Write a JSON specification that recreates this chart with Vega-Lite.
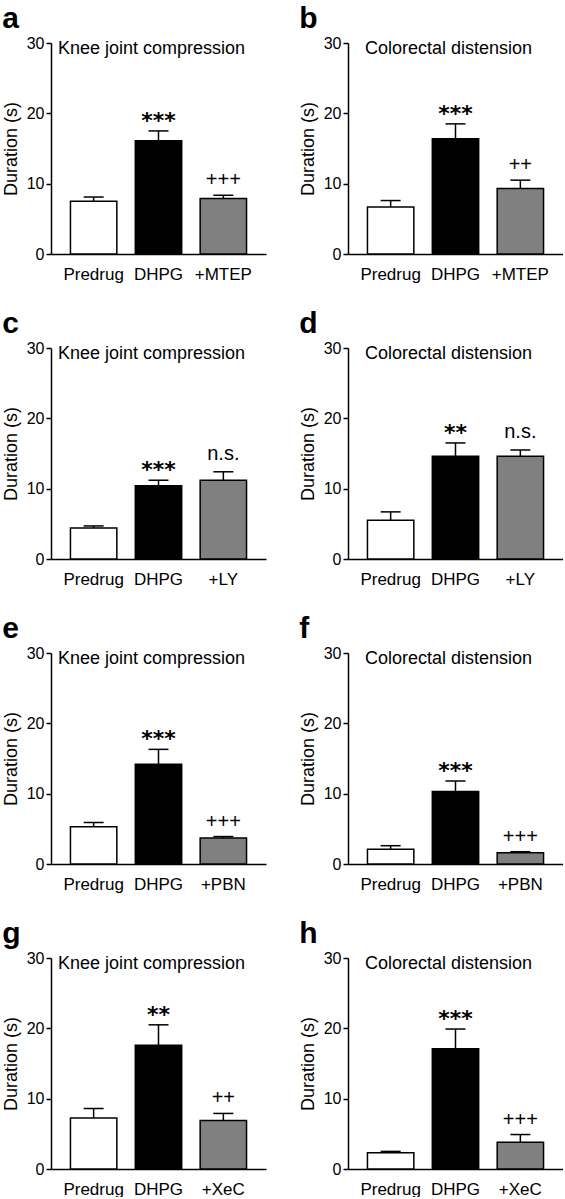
{
  "$schema": "https://vega.github.io/schema/vega-lite/v6.json",
  "padding": {"left": 2, "top": 4, "right": 0, "bottom": 0},
  "background": "white",
  "data": {"values": [
    {"panel": "a", "label": "Predrug", "group": "pre", "mean": 7.5, "err": 8.1, "sig": "", "title": "Knee joint compression"},
    {"panel": "a", "label": "DHPG", "group": "dhpg", "mean": 16.1, "err": 17.5, "sig": "***", "title": "Knee joint compression"},
    {"panel": "a", "label": "+MTEP", "group": "drug", "mean": 7.9, "err": 8.35, "sig": "+++", "title": "Knee joint compression"},
    {"panel": "b", "label": "Predrug", "group": "pre", "mean": 6.7, "err": 7.6, "sig": "", "title": "Colorectal distension"},
    {"panel": "b", "label": "DHPG", "group": "dhpg", "mean": 16.4, "err": 18.5, "sig": "***", "title": "Colorectal distension"},
    {"panel": "b", "label": "+MTEP", "group": "drug", "mean": 9.3, "err": 10.5, "sig": "++", "title": "Colorectal distension"},
    {"panel": "c", "label": "Predrug", "group": "pre", "mean": 4.4, "err": 4.7, "sig": "", "title": "Knee joint compression"},
    {"panel": "c", "label": "DHPG", "group": "dhpg", "mean": 10.4, "err": 11.2, "sig": "***", "title": "Knee joint compression"},
    {"panel": "c", "label": "+LY", "group": "drug", "mean": 11.2, "err": 12.4, "sig": "n.s.", "title": "Knee joint compression"},
    {"panel": "d", "label": "Predrug", "group": "pre", "mean": 5.5, "err": 6.7, "sig": "", "title": "Colorectal distension"},
    {"panel": "d", "label": "DHPG", "group": "dhpg", "mean": 14.6, "err": 16.5, "sig": "**", "title": "Colorectal distension"},
    {"panel": "d", "label": "+LY", "group": "drug", "mean": 14.6, "err": 15.5, "sig": "n.s.", "title": "Colorectal distension"},
    {"panel": "e", "label": "Predrug", "group": "pre", "mean": 5.3, "err": 5.9, "sig": "", "title": "Knee joint compression"},
    {"panel": "e", "label": "DHPG", "group": "dhpg", "mean": 14.2, "err": 16.3, "sig": "***", "title": "Knee joint compression"},
    {"panel": "e", "label": "+PBN", "group": "drug", "mean": 3.7, "err": 3.9, "sig": "+++", "title": "Knee joint compression"},
    {"panel": "f", "label": "Predrug", "group": "pre", "mean": 2.1, "err": 2.6, "sig": "", "title": "Colorectal distension"},
    {"panel": "f", "label": "DHPG", "group": "dhpg", "mean": 10.3, "err": 11.8, "sig": "***", "title": "Colorectal distension"},
    {"panel": "f", "label": "+PBN", "group": "drug", "mean": 1.6, "err": 1.75, "sig": "+++", "title": "Colorectal distension"},
    {"panel": "g", "label": "Predrug", "group": "pre", "mean": 7.25, "err": 8.6, "sig": "", "title": "Knee joint compression"},
    {"panel": "g", "label": "DHPG", "group": "dhpg", "mean": 17.6, "err": 20.5, "sig": "**", "title": "Knee joint compression"},
    {"panel": "g", "label": "+XeC", "group": "drug", "mean": 6.9, "err": 7.9, "sig": "++", "title": "Knee joint compression"},
    {"panel": "h", "label": "Predrug", "group": "pre", "mean": 2.3, "err": 2.5, "sig": "", "title": "Colorectal distension"},
    {"panel": "h", "label": "DHPG", "group": "dhpg", "mean": 17.1, "err": 19.9, "sig": "***", "title": "Colorectal distension"},
    {"panel": "h", "label": "+XeC", "group": "drug", "mean": 3.8, "err": 4.9, "sig": "+++", "title": "Colorectal distension"}
  ]},
  "columns": 2,
  "spacing": {"row": 27, "column": 33},
  "concat": [
    {"title": "a", "transform": [{"filter": "datum.panel == 'a'"}], "width": 215, "height": 211,
     "encoding": {"x": {"field": "label", "type": "nominal", "sort": ["Predrug", "DHPG", "+MTEP", "+LY", "+PBN", "+XeC"], "scale": {"paddingInner": 0.285, "paddingOuter": 0.3}}},
     "layer": [
      {"mark": {"type": "bar", "stroke": "black", "strokeWidth": 1.5}, "encoding": {"y": {"field": "mean", "type": "quantitative", "scale": {"domain": [0, 30]}, "axis": {"values": [0, 10, 20, 30]}, "title": "Duration (s)"}, "fill": {"field": "group", "type": "nominal", "scale": {"domain": ["pre", "dhpg", "drug"], "range": ["white", "black", "#808080"]}, "legend": null}}},
      {"mark": {"type": "rule", "color": "black", "strokeWidth": 1.5}, "encoding": {"y": {"field": "mean", "type": "quantitative"}, "y2": {"field": "err"}}},
      {"mark": {"type": "tick", "color": "black", "thickness": 1.5, "size": 20, "opacity": 1}, "encoding": {"y": {"field": "err", "type": "quantitative"}}},
      {"transform": [{"filter": "indexof(datum.sig, '*') >= 0"}], "mark": {"type": "text", "font": "DejaVu Sans", "fontWeight": "bold", "fontSize": 22, "dy": -3, "baseline": "alphabetic", "color": "black"}, "encoding": {"y": {"field": "err", "type": "quantitative"}, "text": {"field": "sig"}}},
      {"transform": [{"filter": "indexof(datum.sig, '+') >= 0"}], "mark": {"type": "text", "fontSize": 20, "dy": -9, "baseline": "alphabetic", "color": "black"}, "encoding": {"y": {"field": "err", "type": "quantitative"}, "text": {"field": "sig"}}},
      {"transform": [{"filter": "datum.sig == 'n.s.'"}], "mark": {"type": "text", "fontSize": 20, "dy": -12, "baseline": "alphabetic", "color": "black"}, "encoding": {"y": {"field": "err", "type": "quantitative"}, "text": {"field": "sig"}}},
      {"transform": [{"filter": "datum.label == 'DHPG'"}], "mark": {"type": "text", "fontSize": 18, "baseline": "top", "dx": -7, "dy": -3, "color": "black"}, "encoding": {"y": {"datum": 30}, "text": {"field": "title"}}}
     ]},
    {"title": "b", "transform": [{"filter": "datum.panel == 'b'"}], "width": 215, "height": 211,
     "encoding": {"x": {"field": "label", "type": "nominal", "sort": ["Predrug", "DHPG", "+MTEP", "+LY", "+PBN", "+XeC"], "scale": {"paddingInner": 0.285, "paddingOuter": 0.3}}},
     "layer": [
      {"mark": {"type": "bar", "stroke": "black", "strokeWidth": 1.5}, "encoding": {"y": {"field": "mean", "type": "quantitative", "scale": {"domain": [0, 30]}, "axis": {"values": [0, 10, 20, 30]}, "title": "Duration (s)"}, "fill": {"field": "group", "type": "nominal", "scale": {"domain": ["pre", "dhpg", "drug"], "range": ["white", "black", "#808080"]}, "legend": null}}},
      {"mark": {"type": "rule", "color": "black", "strokeWidth": 1.5}, "encoding": {"y": {"field": "mean", "type": "quantitative"}, "y2": {"field": "err"}}},
      {"mark": {"type": "tick", "color": "black", "thickness": 1.5, "size": 20, "opacity": 1}, "encoding": {"y": {"field": "err", "type": "quantitative"}}},
      {"transform": [{"filter": "indexof(datum.sig, '*') >= 0"}], "mark": {"type": "text", "font": "DejaVu Sans", "fontWeight": "bold", "fontSize": 22, "dy": -3, "baseline": "alphabetic", "color": "black"}, "encoding": {"y": {"field": "err", "type": "quantitative"}, "text": {"field": "sig"}}},
      {"transform": [{"filter": "indexof(datum.sig, '+') >= 0"}], "mark": {"type": "text", "fontSize": 20, "dy": -9, "baseline": "alphabetic", "color": "black"}, "encoding": {"y": {"field": "err", "type": "quantitative"}, "text": {"field": "sig"}}},
      {"transform": [{"filter": "datum.sig == 'n.s.'"}], "mark": {"type": "text", "fontSize": 20, "dy": -12, "baseline": "alphabetic", "color": "black"}, "encoding": {"y": {"field": "err", "type": "quantitative"}, "text": {"field": "sig"}}},
      {"transform": [{"filter": "datum.label == 'DHPG'"}], "mark": {"type": "text", "fontSize": 18, "baseline": "top", "dx": -7, "dy": -3, "color": "black"}, "encoding": {"y": {"datum": 30}, "text": {"field": "title"}}}
     ]},
    {"title": "c", "transform": [{"filter": "datum.panel == 'c'"}], "width": 215, "height": 211,
     "encoding": {"x": {"field": "label", "type": "nominal", "sort": ["Predrug", "DHPG", "+MTEP", "+LY", "+PBN", "+XeC"], "scale": {"paddingInner": 0.285, "paddingOuter": 0.3}}},
     "layer": [
      {"mark": {"type": "bar", "stroke": "black", "strokeWidth": 1.5}, "encoding": {"y": {"field": "mean", "type": "quantitative", "scale": {"domain": [0, 30]}, "axis": {"values": [0, 10, 20, 30]}, "title": "Duration (s)"}, "fill": {"field": "group", "type": "nominal", "scale": {"domain": ["pre", "dhpg", "drug"], "range": ["white", "black", "#808080"]}, "legend": null}}},
      {"mark": {"type": "rule", "color": "black", "strokeWidth": 1.5}, "encoding": {"y": {"field": "mean", "type": "quantitative"}, "y2": {"field": "err"}}},
      {"mark": {"type": "tick", "color": "black", "thickness": 1.5, "size": 20, "opacity": 1}, "encoding": {"y": {"field": "err", "type": "quantitative"}}},
      {"transform": [{"filter": "indexof(datum.sig, '*') >= 0"}], "mark": {"type": "text", "font": "DejaVu Sans", "fontWeight": "bold", "fontSize": 22, "dy": -3, "baseline": "alphabetic", "color": "black"}, "encoding": {"y": {"field": "err", "type": "quantitative"}, "text": {"field": "sig"}}},
      {"transform": [{"filter": "indexof(datum.sig, '+') >= 0"}], "mark": {"type": "text", "fontSize": 20, "dy": -9, "baseline": "alphabetic", "color": "black"}, "encoding": {"y": {"field": "err", "type": "quantitative"}, "text": {"field": "sig"}}},
      {"transform": [{"filter": "datum.sig == 'n.s.'"}], "mark": {"type": "text", "fontSize": 20, "dy": -12, "baseline": "alphabetic", "color": "black"}, "encoding": {"y": {"field": "err", "type": "quantitative"}, "text": {"field": "sig"}}},
      {"transform": [{"filter": "datum.label == 'DHPG'"}], "mark": {"type": "text", "fontSize": 18, "baseline": "top", "dx": -7, "dy": -3, "color": "black"}, "encoding": {"y": {"datum": 30}, "text": {"field": "title"}}}
     ]},
    {"title": "d", "transform": [{"filter": "datum.panel == 'd'"}], "width": 215, "height": 211,
     "encoding": {"x": {"field": "label", "type": "nominal", "sort": ["Predrug", "DHPG", "+MTEP", "+LY", "+PBN", "+XeC"], "scale": {"paddingInner": 0.285, "paddingOuter": 0.3}}},
     "layer": [
      {"mark": {"type": "bar", "stroke": "black", "strokeWidth": 1.5}, "encoding": {"y": {"field": "mean", "type": "quantitative", "scale": {"domain": [0, 30]}, "axis": {"values": [0, 10, 20, 30]}, "title": "Duration (s)"}, "fill": {"field": "group", "type": "nominal", "scale": {"domain": ["pre", "dhpg", "drug"], "range": ["white", "black", "#808080"]}, "legend": null}}},
      {"mark": {"type": "rule", "color": "black", "strokeWidth": 1.5}, "encoding": {"y": {"field": "mean", "type": "quantitative"}, "y2": {"field": "err"}}},
      {"mark": {"type": "tick", "color": "black", "thickness": 1.5, "size": 20, "opacity": 1}, "encoding": {"y": {"field": "err", "type": "quantitative"}}},
      {"transform": [{"filter": "indexof(datum.sig, '*') >= 0"}], "mark": {"type": "text", "font": "DejaVu Sans", "fontWeight": "bold", "fontSize": 22, "dy": -3, "baseline": "alphabetic", "color": "black"}, "encoding": {"y": {"field": "err", "type": "quantitative"}, "text": {"field": "sig"}}},
      {"transform": [{"filter": "indexof(datum.sig, '+') >= 0"}], "mark": {"type": "text", "fontSize": 20, "dy": -9, "baseline": "alphabetic", "color": "black"}, "encoding": {"y": {"field": "err", "type": "quantitative"}, "text": {"field": "sig"}}},
      {"transform": [{"filter": "datum.sig == 'n.s.'"}], "mark": {"type": "text", "fontSize": 20, "dy": -12, "baseline": "alphabetic", "color": "black"}, "encoding": {"y": {"field": "err", "type": "quantitative"}, "text": {"field": "sig"}}},
      {"transform": [{"filter": "datum.label == 'DHPG'"}], "mark": {"type": "text", "fontSize": 18, "baseline": "top", "dx": -7, "dy": -3, "color": "black"}, "encoding": {"y": {"datum": 30}, "text": {"field": "title"}}}
     ]},
    {"title": "e", "transform": [{"filter": "datum.panel == 'e'"}], "width": 215, "height": 211,
     "encoding": {"x": {"field": "label", "type": "nominal", "sort": ["Predrug", "DHPG", "+MTEP", "+LY", "+PBN", "+XeC"], "scale": {"paddingInner": 0.285, "paddingOuter": 0.3}}},
     "layer": [
      {"mark": {"type": "bar", "stroke": "black", "strokeWidth": 1.5}, "encoding": {"y": {"field": "mean", "type": "quantitative", "scale": {"domain": [0, 30]}, "axis": {"values": [0, 10, 20, 30]}, "title": "Duration (s)"}, "fill": {"field": "group", "type": "nominal", "scale": {"domain": ["pre", "dhpg", "drug"], "range": ["white", "black", "#808080"]}, "legend": null}}},
      {"mark": {"type": "rule", "color": "black", "strokeWidth": 1.5}, "encoding": {"y": {"field": "mean", "type": "quantitative"}, "y2": {"field": "err"}}},
      {"mark": {"type": "tick", "color": "black", "thickness": 1.5, "size": 20, "opacity": 1}, "encoding": {"y": {"field": "err", "type": "quantitative"}}},
      {"transform": [{"filter": "indexof(datum.sig, '*') >= 0"}], "mark": {"type": "text", "font": "DejaVu Sans", "fontWeight": "bold", "fontSize": 22, "dy": -3, "baseline": "alphabetic", "color": "black"}, "encoding": {"y": {"field": "err", "type": "quantitative"}, "text": {"field": "sig"}}},
      {"transform": [{"filter": "indexof(datum.sig, '+') >= 0"}], "mark": {"type": "text", "fontSize": 20, "dy": -9, "baseline": "alphabetic", "color": "black"}, "encoding": {"y": {"field": "err", "type": "quantitative"}, "text": {"field": "sig"}}},
      {"transform": [{"filter": "datum.sig == 'n.s.'"}], "mark": {"type": "text", "fontSize": 20, "dy": -12, "baseline": "alphabetic", "color": "black"}, "encoding": {"y": {"field": "err", "type": "quantitative"}, "text": {"field": "sig"}}},
      {"transform": [{"filter": "datum.label == 'DHPG'"}], "mark": {"type": "text", "fontSize": 18, "baseline": "top", "dx": -7, "dy": -3, "color": "black"}, "encoding": {"y": {"datum": 30}, "text": {"field": "title"}}}
     ]},
    {"title": "f", "transform": [{"filter": "datum.panel == 'f'"}], "width": 215, "height": 211,
     "encoding": {"x": {"field": "label", "type": "nominal", "sort": ["Predrug", "DHPG", "+MTEP", "+LY", "+PBN", "+XeC"], "scale": {"paddingInner": 0.285, "paddingOuter": 0.3}}},
     "layer": [
      {"mark": {"type": "bar", "stroke": "black", "strokeWidth": 1.5}, "encoding": {"y": {"field": "mean", "type": "quantitative", "scale": {"domain": [0, 30]}, "axis": {"values": [0, 10, 20, 30]}, "title": "Duration (s)"}, "fill": {"field": "group", "type": "nominal", "scale": {"domain": ["pre", "dhpg", "drug"], "range": ["white", "black", "#808080"]}, "legend": null}}},
      {"mark": {"type": "rule", "color": "black", "strokeWidth": 1.5}, "encoding": {"y": {"field": "mean", "type": "quantitative"}, "y2": {"field": "err"}}},
      {"mark": {"type": "tick", "color": "black", "thickness": 1.5, "size": 20, "opacity": 1}, "encoding": {"y": {"field": "err", "type": "quantitative"}}},
      {"transform": [{"filter": "indexof(datum.sig, '*') >= 0"}], "mark": {"type": "text", "font": "DejaVu Sans", "fontWeight": "bold", "fontSize": 22, "dy": -3, "baseline": "alphabetic", "color": "black"}, "encoding": {"y": {"field": "err", "type": "quantitative"}, "text": {"field": "sig"}}},
      {"transform": [{"filter": "indexof(datum.sig, '+') >= 0"}], "mark": {"type": "text", "fontSize": 20, "dy": -9, "baseline": "alphabetic", "color": "black"}, "encoding": {"y": {"field": "err", "type": "quantitative"}, "text": {"field": "sig"}}},
      {"transform": [{"filter": "datum.sig == 'n.s.'"}], "mark": {"type": "text", "fontSize": 20, "dy": -12, "baseline": "alphabetic", "color": "black"}, "encoding": {"y": {"field": "err", "type": "quantitative"}, "text": {"field": "sig"}}},
      {"transform": [{"filter": "datum.label == 'DHPG'"}], "mark": {"type": "text", "fontSize": 18, "baseline": "top", "dx": -7, "dy": -3, "color": "black"}, "encoding": {"y": {"datum": 30}, "text": {"field": "title"}}}
     ]},
    {"title": "g", "transform": [{"filter": "datum.panel == 'g'"}], "width": 215, "height": 211,
     "encoding": {"x": {"field": "label", "type": "nominal", "sort": ["Predrug", "DHPG", "+MTEP", "+LY", "+PBN", "+XeC"], "scale": {"paddingInner": 0.285, "paddingOuter": 0.3}}},
     "layer": [
      {"mark": {"type": "bar", "stroke": "black", "strokeWidth": 1.5}, "encoding": {"y": {"field": "mean", "type": "quantitative", "scale": {"domain": [0, 30]}, "axis": {"values": [0, 10, 20, 30]}, "title": "Duration (s)"}, "fill": {"field": "group", "type": "nominal", "scale": {"domain": ["pre", "dhpg", "drug"], "range": ["white", "black", "#808080"]}, "legend": null}}},
      {"mark": {"type": "rule", "color": "black", "strokeWidth": 1.5}, "encoding": {"y": {"field": "mean", "type": "quantitative"}, "y2": {"field": "err"}}},
      {"mark": {"type": "tick", "color": "black", "thickness": 1.5, "size": 20, "opacity": 1}, "encoding": {"y": {"field": "err", "type": "quantitative"}}},
      {"transform": [{"filter": "indexof(datum.sig, '*') >= 0"}], "mark": {"type": "text", "font": "DejaVu Sans", "fontWeight": "bold", "fontSize": 22, "dy": -3, "baseline": "alphabetic", "color": "black"}, "encoding": {"y": {"field": "err", "type": "quantitative"}, "text": {"field": "sig"}}},
      {"transform": [{"filter": "indexof(datum.sig, '+') >= 0"}], "mark": {"type": "text", "fontSize": 20, "dy": -9, "baseline": "alphabetic", "color": "black"}, "encoding": {"y": {"field": "err", "type": "quantitative"}, "text": {"field": "sig"}}},
      {"transform": [{"filter": "datum.sig == 'n.s.'"}], "mark": {"type": "text", "fontSize": 20, "dy": -12, "baseline": "alphabetic", "color": "black"}, "encoding": {"y": {"field": "err", "type": "quantitative"}, "text": {"field": "sig"}}},
      {"transform": [{"filter": "datum.label == 'DHPG'"}], "mark": {"type": "text", "fontSize": 18, "baseline": "top", "dx": -7, "dy": -3, "color": "black"}, "encoding": {"y": {"datum": 30}, "text": {"field": "title"}}}
     ]},
    {"title": "h", "transform": [{"filter": "datum.panel == 'h'"}], "width": 215, "height": 211,
     "encoding": {"x": {"field": "label", "type": "nominal", "sort": ["Predrug", "DHPG", "+MTEP", "+LY", "+PBN", "+XeC"], "scale": {"paddingInner": 0.285, "paddingOuter": 0.3}}},
     "layer": [
      {"mark": {"type": "bar", "stroke": "black", "strokeWidth": 1.5}, "encoding": {"y": {"field": "mean", "type": "quantitative", "scale": {"domain": [0, 30]}, "axis": {"values": [0, 10, 20, 30]}, "title": "Duration (s)"}, "fill": {"field": "group", "type": "nominal", "scale": {"domain": ["pre", "dhpg", "drug"], "range": ["white", "black", "#808080"]}, "legend": null}}},
      {"mark": {"type": "rule", "color": "black", "strokeWidth": 1.5}, "encoding": {"y": {"field": "mean", "type": "quantitative"}, "y2": {"field": "err"}}},
      {"mark": {"type": "tick", "color": "black", "thickness": 1.5, "size": 20, "opacity": 1}, "encoding": {"y": {"field": "err", "type": "quantitative"}}},
      {"transform": [{"filter": "indexof(datum.sig, '*') >= 0"}], "mark": {"type": "text", "font": "DejaVu Sans", "fontWeight": "bold", "fontSize": 22, "dy": -3, "baseline": "alphabetic", "color": "black"}, "encoding": {"y": {"field": "err", "type": "quantitative"}, "text": {"field": "sig"}}},
      {"transform": [{"filter": "indexof(datum.sig, '+') >= 0"}], "mark": {"type": "text", "fontSize": 20, "dy": -9, "baseline": "alphabetic", "color": "black"}, "encoding": {"y": {"field": "err", "type": "quantitative"}, "text": {"field": "sig"}}},
      {"transform": [{"filter": "datum.sig == 'n.s.'"}], "mark": {"type": "text", "fontSize": 20, "dy": -12, "baseline": "alphabetic", "color": "black"}, "encoding": {"y": {"field": "err", "type": "quantitative"}, "text": {"field": "sig"}}},
      {"transform": [{"filter": "datum.label == 'DHPG'"}], "mark": {"type": "text", "fontSize": 18, "baseline": "top", "dx": -7, "dy": -3, "color": "black"}, "encoding": {"y": {"datum": 30}, "text": {"field": "title"}}}
     ]}
  ],
  "config": {
    "font": "Liberation Sans",
    "view": {"stroke": null},
    "title": {"anchor": "start", "frame": "bounds", "fontSize": 30, "fontWeight": "bold", "font": "Liberation Sans", "color": "black", "offset": 1},
    "axisY": {"tickSize": 5, "tickWidth": 1.5, "tickColor": "black", "domainColor": "black", "domainWidth": 1.5, "labelFontSize": 16, "labelColor": "black", "labelPadding": 2, "grid": false, "titleFontSize": 18, "titleFontWeight": "normal", "titleColor": "black", "titlePadding": 6},
    "axisX": {"ticks": false, "domainColor": "black", "domainWidth": 1.5, "labelFontSize": 17, "labelAngle": 0, "labelColor": "black", "labelPadding": 12, "title": null, "grid": false}
  }
}
